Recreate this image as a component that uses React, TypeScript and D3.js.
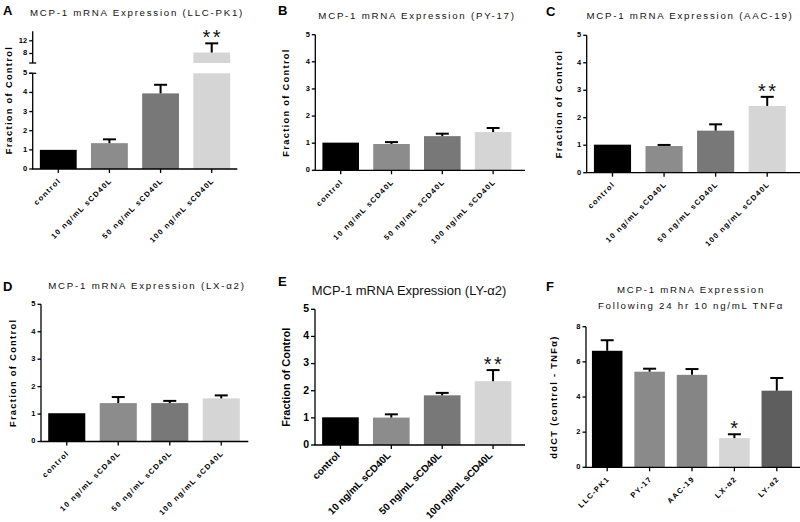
import React from "react";
import * as d3 from "d3";

const conditions = ["control", "10 ng/mL sCD40L", "50 ng/mL sCD40L", "100 ng/mL sCD40L"];
const doseColors = ["#000000", "#8c8c8c", "#787878", "#d5d5d5"];

const llcMean = [1.0, 1.35, 3.95, 8.3];
const llcSem = [0, 0.2, 0.45, 2.9];
const llcSig = ["", "", "", "**"];

const py17Mean = [1.02, 0.97, 1.26, 1.41];
const py17Sem = [0, 0.07, 0.09, 0.15];
const py17Sig = ["", "", "", ""];

const aac19Mean = [1.02, 0.97, 1.53, 2.43];
const aac19Sem = [0, 0.04, 0.23, 0.33];
const aac19Sig = ["", "", "", "**"];

const lxMean = [1.03, 1.4, 1.4, 1.57];
const lxSem = [0, 0.22, 0.08, 0.11];
const lxSig = ["", "", "", ""];

const lyMean = [1.02, 1.01, 1.83, 2.35];
const lySem = [0, 0.12, 0.09, 0.41];
const lySig = ["", "", "", "**"];

const cellLines = ["LLC-PK1", "PY-17", "AAC-19", "LX-α2", "LY-α2"];
const lineColors = ["#000000", "#8a8a8a", "#858585", "#d6d6d6", "#5e5e5e"];
const tnfMean = [6.63, 5.44, 5.26, 1.66, 4.36];
const tnfSem = [0.6, 0.17, 0.33, 0.22, 0.72];
const tnfSig = ["", "", "", "*", ""];

const fractionTicks = [0, 1, 2, 3, 4, 5];
const breakTicks = [8, 12];
const ddctTicks = [0, 2, 4, 6, 8];

const FONT = "'Liberation Sans', Arial, Helvetica, sans-serif";

type Brk = { lo: number; hiDomain: [number, number]; hiRange: [number, number]; hiTicks: number[] };

type PanelProps = {
  cats: string[];
  means: number[];
  sems: number[];
  sigs: string[];
  colors: string[];
  x0: number;
  x1: number;
  axisEnd: number;
  y0: number;
  yTop: number;
  yMax: number;
  ticks: number[];
  title: string[];
  titleX: number;
  titleY: number[];
  label: string;
  labelX: number;
  labelY: number;
  ylabel: string;
  ylabelX: number;
  large?: boolean;
  brk?: Brk;
};

const ff = { fontFamily: FONT };

function Panel(p: PanelProps) {
  const large = !!p.large;
  const x = d3
    .scaleBand<string>()
    .domain(p.cats)
    .range([p.x0, p.x1])
    .paddingInner(0.28)
    .paddingOuter(0.14);
  const y = d3.scaleLinear().domain([0, p.yMax]).range([p.y0, p.yTop]);
  const hi = p.brk ? d3.scaleLinear().domain(p.brk.hiDomain).range(p.brk.hiRange) : null;
  const yPos = (v: number) => (p.brk && hi && v > p.brk.lo ? hi(v) : y(v));
  const bw = x.bandwidth();
  const capW = 13;

  const tickFont = large ? 10.5 : 7.5;
  const xFont = large ? 10 : 7.5;
  const xSpacing = large ? 0 : 1.3;
  const ylabFont = large ? 11 : 9.3;
  const ylabSpacing = large ? 0 : 1.3;
  const titleFont = large ? 13 : 9.7;
  const titleSpacing = large ? 0 : 1.75;
  const tickLen = large ? 4 : 3.5;

  const yMid = p.brk && hi ? (p.y0 + p.brk.hiRange[1]) / 2 : (p.y0 + p.yTop) / 2;

  return (
    <g>
      <text x={p.labelX} y={p.labelY} fontSize={13} fontWeight="bold" fill="#000" style={ff}>
        {p.label}
      </text>
      {p.title.map((t, i) => (
        <text
          key={i}
          x={p.titleX}
          y={p.titleY[i]}
          fontSize={titleFont}
          letterSpacing={titleSpacing}
          textAnchor="middle"
          fill="#111"
          style={ff}
        >
          {t}
        </text>
      ))}
      <text
        transform={`translate(${p.ylabelX},${yMid}) rotate(-90)`}
        fontSize={ylabFont}
        fontWeight="bold"
        letterSpacing={ylabSpacing}
        textAnchor="middle"
        dominantBaseline="middle"
        fill="#000"
        style={ff}
      >
        {p.ylabel}
      </text>

      {p.cats.map((c, i) => {
        const m = p.means[i];
        const bx = x(c)!;
        if (p.brk && hi && m > p.brk.lo) {
          return (
            <g key={c}>
              <rect x={bx} y={y(p.brk.lo)} width={bw} height={p.y0 - y(p.brk.lo)} fill={p.colors[i]} />
              <rect x={bx} y={hi(m)} width={bw} height={hi(p.brk.lo) - hi(m)} fill={p.colors[i]} />
            </g>
          );
        }
        return <rect key={c} x={bx} y={y(m)} width={bw} height={p.y0 - y(m)} fill={p.colors[i]} />;
      })}

      {p.cats.map((c, i) => {
        const s = p.sems[i];
        if (!s) return null;
        const cx = x(c)! + bw / 2;
        const top = yPos(p.means[i] + s);
        const bot = yPos(p.means[i]);
        return (
          <g key={c} stroke="#000" strokeWidth={2}>
            <line x1={cx} x2={cx} y1={bot} y2={top} />
            <line x1={cx - capW / 2} x2={cx + capW / 2} y1={top} y2={top} />
          </g>
        );
      })}

      {p.cats.map((c, i) => {
        if (!p.sigs[i]) return null;
        const cx = x(c)! + bw / 2;
        const top = yPos(p.means[i] + p.sems[i]);
        return (
          <text
            key={c}
            x={cx + 1}
            y={top + 1}
            fontSize={20}
            letterSpacing={2.5}
            textAnchor="middle"
            fill="#111"
            style={ff}
          >
            {p.sigs[i]}
          </text>
        );
      })}

      <g stroke="#000" strokeWidth={1.3}>
        <line x1={p.x0} x2={p.x0} y1={p.y0} y2={p.yTop} />
        {p.ticks.map((t) => (
          <line key={t} x1={p.x0 - tickLen} x2={p.x0} y1={y(t)} y2={y(t)} />
        ))}
        {p.brk && hi && (
          <>
            <line x1={p.x0} x2={p.x0} y1={p.brk.hiRange[0]} y2={p.brk.hiRange[1]} />
            {p.brk.hiTicks.map((t) => (
              <line key={"h" + t} x1={p.x0 - tickLen} x2={p.x0} y1={hi(t)} y2={hi(t)} />
            ))}
            <line x1={p.x0 - 3.5} x2={p.x0 + 3.5} y1={p.brk.hiRange[0]} y2={p.brk.hiRange[0]} />
            <line x1={p.x0 - 3.5} x2={p.x0 + 3.5} y1={p.yTop} y2={p.yTop} />
          </>
        )}
      </g>
      {p.ticks.map((t) => (
        <text
          key={t}
          x={p.x0 - tickLen - 2}
          y={y(t)}
          fontSize={tickFont}
          fontWeight="bold"
          textAnchor="end"
          dominantBaseline="middle"
          fill="#000"
          style={ff}
        >
          {t}
        </text>
      ))}
      {p.brk &&
        hi &&
        p.brk.hiTicks.map((t) => (
          <text
            key={"hl" + t}
            x={p.x0 - tickLen - 2}
            y={hi(t)}
            fontSize={tickFont}
            fontWeight="bold"
            textAnchor="end"
            dominantBaseline="middle"
            fill="#000"
            style={ff}
          >
            {t}
          </text>
        ))}

      <g stroke="#000" strokeWidth={1.3}>
        <line x1={p.x0 - 0.65} x2={p.axisEnd} y1={p.y0} y2={p.y0} />
        {p.cats.map((c) => {
          const cx = x(c)! + bw / 2;
          return <line key={c} x1={cx} x2={cx} y1={p.y0} y2={p.y0 + 4} />;
        })}
      </g>
      {p.cats.map((c) => {
        const cx = x(c)! + bw / 2;
        const dx = large ? 0 : 3;
        const dy = large ? 11 : 12;
        return (
          <text
            key={c}
            transform={`translate(${cx + dx},${p.y0 + dy}) rotate(-45)`}
            fontSize={xFont}
            fontWeight="bold"
            letterSpacing={xSpacing}
            textAnchor="end"
            fill="#000"
            style={ff}
          >
            {c}
          </text>
        );
      })}
    </g>
  );
}

export default function App() {
  return (
    <svg
      width={800}
      height={522}
      viewBox="0 0 800 522"
      style={{ position: "absolute", left: 0, top: 0, background: "#fff" }}
    >
      <rect width={800} height={522} fill="#fff" />
      <Panel
        cats={conditions}
        means={llcMean}
        sems={llcSem}
        sigs={llcSig}
        colors={doseColors}
        x0={32.7}
        x1={237.3}
        axisEnd={237.3}
        y0={169}
        yTop={73.3}
        yMax={5}
        ticks={fractionTicks}
        title={["MCP-1 mRNA Expression (LLC-PK1)"]}
        titleX={137}
        titleY={[15.5]}
        label="A"
        labelX={3}
        labelY={15}
        ylabel="Fraction of Control"
        ylabelX={10}
        brk={{ lo: 5, hiDomain: [5, 15], hiRange: [63, 31.3], hiTicks: breakTicks }}
      />
      <Panel
        cats={conditions}
        means={py17Mean}
        sems={py17Sem}
        sigs={py17Sig}
        colors={doseColors}
        x0={315.3}
        x1={518.5}
        axisEnd={525}
        y0={170.3}
        yTop={34.7}
        yMax={5}
        ticks={fractionTicks}
        title={["MCP-1 mRNA Expression (PY-17)"]}
        titleX={417}
        titleY={[19]}
        label="B"
        labelX={278}
        labelY={15}
        ylabel="Fraction of Control"
        ylabelX={287}
      />
      <Panel
        cats={conditions}
        means={aac19Mean}
        sems={aac19Sem}
        sigs={aac19Sig}
        colors={doseColors}
        x0={586.7}
        x1={793}
        axisEnd={800}
        y0={172.7}
        yTop={35.3}
        yMax={5}
        ticks={fractionTicks}
        title={["MCP-1 mRNA Expression (AAC-19)"]}
        titleX={690}
        titleY={[19]}
        label="C"
        labelX={546}
        labelY={16}
        ylabel="Fraction of Control"
        ylabelX={560}
      />
      <Panel
        cats={conditions}
        means={lxMean}
        sems={lxSem}
        sigs={lxSig}
        colors={doseColors}
        x0={41}
        x1={247}
        axisEnd={248.3}
        y0={441.5}
        yTop={304.3}
        yMax={5}
        ticks={fractionTicks}
        title={["MCP-1 mRNA Expression (LX-α2)"]}
        titleX={147}
        titleY={[289]}
        label="D"
        labelX={3}
        labelY={291}
        ylabel="Fraction of Control"
        ylabelX={13.5}
      />
      <Panel
        cats={conditions}
        means={lyMean}
        sems={lySem}
        sigs={lySig}
        colors={doseColors}
        x0={315}
        x1={518.5}
        axisEnd={525}
        y0={445}
        yTop={309.3}
        yMax={5}
        ticks={fractionTicks}
        title={["MCP-1 mRNA Expression (LY-α2)"]}
        titleX={409}
        titleY={[295]}
        label="E"
        labelX={278}
        labelY={286}
        ylabel="Fraction of Control"
        ylabelX={287}
        large
      />
      <Panel
        cats={cellLines}
        means={tnfMean}
        sems={tnfSem}
        sigs={tnfSig}
        colors={lineColors}
        x0={586}
        x1={798}
        axisEnd={800}
        y0={467.3}
        yTop={326.7}
        yMax={8}
        ticks={ddctTicks}
        title={["MCP-1 mRNA Expression", "Following 24 hr 10 ng/mL TNFα"]}
        titleX={691}
        titleY={[292.5, 309.3]}
        label="F"
        labelX={546}
        labelY={291}
        ylabel="ddCT (control - TNFα)"
        ylabelX={555}
      />
    </svg>
  );
}
